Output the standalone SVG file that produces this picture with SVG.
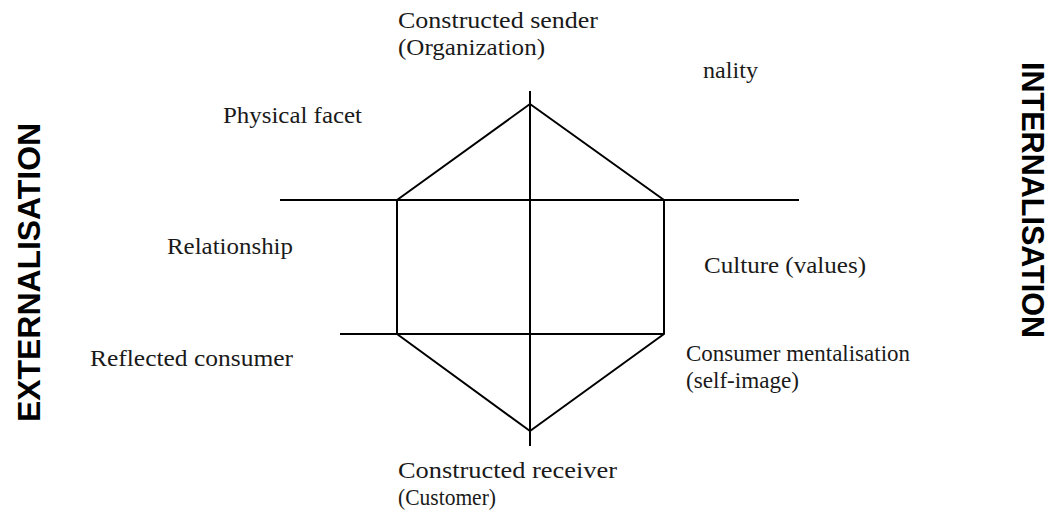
<svg xmlns="http://www.w3.org/2000/svg" width="1050" height="514" viewBox="0 0 1050 514">
  <style>
    .ln { stroke: #000; stroke-width: 2; fill: none; stroke-linejoin: round; }
    .lbl { font-family: "Liberation Serif", "Times New Roman", serif; font-size: 24px; fill: #1a1a1a; }
    .axis { font-family: "Liberation Sans", Arial, sans-serif; font-size: 32px; font-weight: bold; fill: #000; }
  </style>
  <rect width="1050" height="514" fill="#fff"/>

  <!-- prism frame -->
  <g id="connectors">
    <line class="ln" x1="530" y1="91" x2="530" y2="446"/>
    <line class="ln" x1="280" y1="200" x2="799" y2="200"/>
    <line class="ln" x1="340" y1="334" x2="664" y2="334"/>
    <polygon class="ln" points="530,104 664,200 664,334 530,431 397,334 397,200"/>
  </g>

  <g id="sender">
    <text class="lbl" x="398" y="28" textLength="200" lengthAdjust="spacingAndGlyphs">Constructed sender</text>
    <text class="lbl" x="398" y="55" textLength="147" lengthAdjust="spacingAndGlyphs">(Organization)</text>
  </g>
  <g id="personality"><text class="lbl" x="703" y="78" textLength="55" lengthAdjust="spacingAndGlyphs">nality</text></g>
  <g id="physical"><text class="lbl" x="223" y="123" textLength="139" lengthAdjust="spacingAndGlyphs">Physical facet</text></g>
  <g id="relationship"><text class="lbl" x="167" y="254" textLength="126" lengthAdjust="spacingAndGlyphs">Relationship</text></g>
  <g id="culture"><text class="lbl" x="704" y="273" textLength="162" lengthAdjust="spacingAndGlyphs">Culture (values)</text></g>
  <g id="reflection"><text class="lbl" x="90" y="366" textLength="203" lengthAdjust="spacingAndGlyphs">Reflected consumer</text></g>
  <g id="selfimage">
    <text class="lbl" x="686" y="361" textLength="224" lengthAdjust="spacingAndGlyphs">Consumer mentalisation</text>
    <text class="lbl" x="686" y="388" textLength="113" lengthAdjust="spacingAndGlyphs">(self-image)</text>
  </g>
  <g id="receiver">
    <text class="lbl" x="398" y="478" textLength="219" lengthAdjust="spacingAndGlyphs">Constructed receiver</text>
    <text class="lbl" x="398" y="505" textLength="98" lengthAdjust="spacingAndGlyphs">(Customer)</text>
  </g>

  <g id="externalisation">
    <text class="axis" transform="translate(40,422) rotate(-90)" textLength="299" lengthAdjust="spacingAndGlyphs">EXTERNALISATION</text>
  </g>
  <g id="internalisation">
    <text class="axis" transform="translate(1022,62) rotate(90)" textLength="276" lengthAdjust="spacingAndGlyphs">INTERNALISATION</text>
  </g>
</svg>
